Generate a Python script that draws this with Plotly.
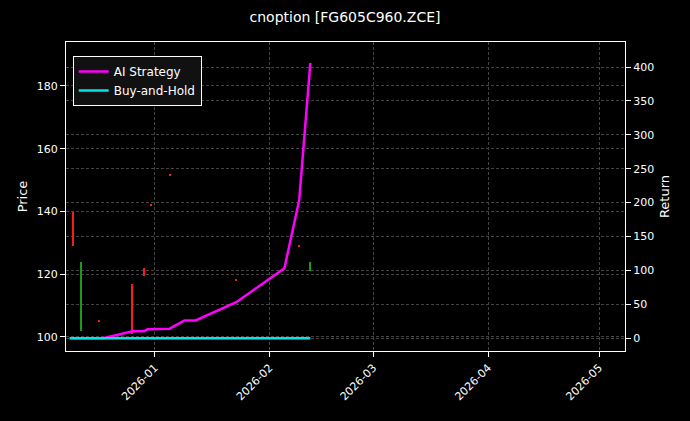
import plotly.graph_objects as go

# candles (price axis)
c_dates = ['2025-12-10', '2025-12-12', '2025-12-17', '2025-12-26', '2025-12-29',
           '2025-12-31', '2026-01-05', '2026-01-23', '2026-02-09', '2026-02-12']
c_open = [139.8, 102.5, 105.3, 117.0, 122.0, 142.2, 151.7, 118.2, 129.2, 121.0]
c_high = [139.8, 124.0, 105.5, 117.0, 122.0, 142.3, 151.8, 118.3, 129.3, 124.0]
c_low = [129.0, 102.0, 104.8, 101.0, 119.5, 141.9, 151.4, 117.9, 128.9, 121.0]
c_close = [129.0, 102.6, 105.0, 101.0, 119.5, 142.0, 151.5, 118.0, 129.0, 124.0]

# strategy returns (right axis)
r_dates = ['2025-12-09', '2025-12-18', '2025-12-26', '2025-12-29', '2025-12-30',
           '2026-01-05', '2026-01-09', '2026-01-12', '2026-01-23', '2026-02-05',
           '2026-02-09', '2026-02-12']
ai_ret = [0, 0, 10, 10, 13, 14, 26, 26, 53, 103, 204, 406]
bh_ret = [0, 0, 0, 0, 0, 0, 0, 0, 0, 0, 0, 0]

colors = ['#1a9a1a' if c >= o else '#ff1a1a' for o, c in zip(c_open, c_close)]
day = 86400000

fig = go.Figure()
fig.add_trace(go.Bar(x=c_dates, base=c_low, y=[h - l for h, l in zip(c_high, c_low)],
                     width=0.35 * day, marker=dict(color=colors, line=dict(width=0)),
                     showlegend=False, hoverinfo='skip'))
fig.add_trace(go.Scatter(x=r_dates, y=ai_ret, name='AI Strategy', yaxis='y2',
                         mode='lines', line=dict(color='#ff00ff', width=2.5)))
fig.add_trace(go.Scatter(x=r_dates, y=bh_ret, name='Buy-and-Hold', yaxis='y2',
                         mode='lines', line=dict(color='#00e5e5', width=2.5)))

grid = dict(showgrid=True, gridcolor='#444', griddash='3px,2px', gridwidth=0.5,
            showline=True, linecolor='white', ticks='outside', tickcolor='white',
            zeroline=False, color='white', automargin=False, tickfont=dict(size=11))
fig.update_layout(
    width=690, height=421,
    paper_bgcolor='black', plot_bgcolor='black',
    font=dict(family='DejaVu Sans', size=11, color='white'),
    title=dict(text='cnoption [FG605C960.ZCE]', x=0.5, y=0.97, xanchor='center', font=dict(size=14)),
    margin=dict(l=66, r=65, t=42, b=70),
    bargap=0,
    xaxis=dict(**grid, range=['2025-12-08', '2026-05-08'],
               tickvals=['2026-01-01', '2026-02-01', '2026-03-01', '2026-04-01', '2026-05-01'],
               ticktext=['2026-01', '2026-02', '2026-03', '2026-04', '2026-05'],
               tickangle=-45, mirror=True),
    yaxis=dict(**grid, title=dict(text='Price', standoff=6), range=[95.5, 194],
               tickvals=[100, 120, 140, 160, 180]),
    yaxis2=dict(**grid, title=dict(text='Return', standoff=6), overlaying='y', side='right',
                range=[-19, 437], tickvals=list(range(0, 401, 50))),
    legend=dict(x=0.012, y=0.955, xanchor='left', yanchor='top', bgcolor='#111',
                bordercolor='white', borderwidth=1, font=dict(size=12)),
)
fig.write_html('out.html', config={'displayModeBar': False},
               post_script="document.body.style.margin='0';document.body.style.background='black';")
